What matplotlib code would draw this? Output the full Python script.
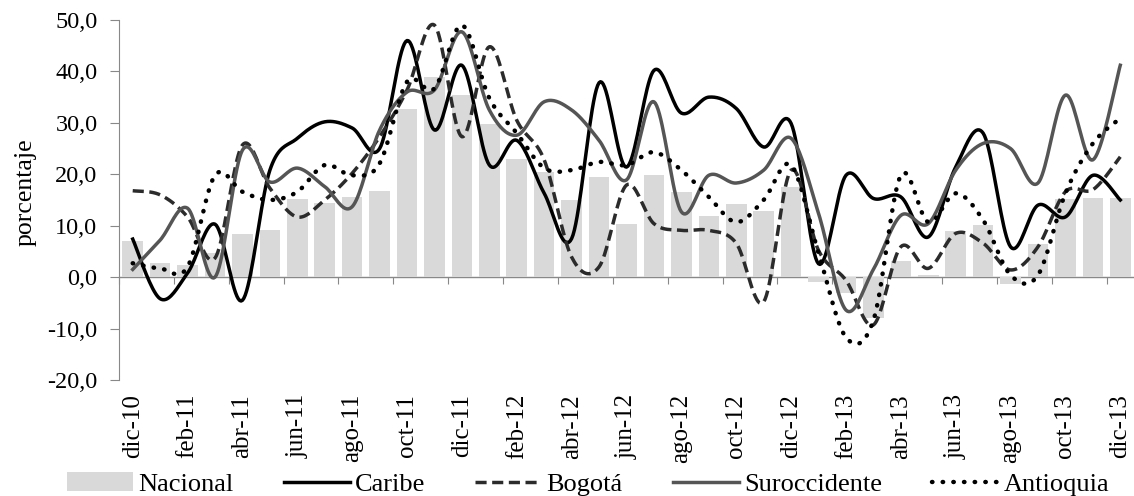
import numpy as np
import matplotlib
matplotlib.use('Agg')
import matplotlib.pyplot as plt
from matplotlib.ticker import FuncFormatter

plt.rcParams['font.family'] = ['Liberation Serif', 'DejaVu Serif']

# monthly series dic-10 .. dic-13
months = ['dic-10', 'ene-11', 'feb-11', 'mar-11', 'abr-11', 'may-11', 'jun-11', 'jul-11', 'ago-11',
          'sep-11', 'oct-11', 'nov-11', 'dic-11', 'ene-12', 'feb-12', 'mar-12', 'abr-12', 'may-12',
          'jun-12', 'jul-12', 'ago-12', 'sep-12', 'oct-12', 'nov-12', 'dic-12', 'ene-13', 'feb-13',
          'mar-13', 'abr-13', 'may-13', 'jun-13', 'jul-13', 'ago-13', 'sep-13', 'oct-13', 'nov-13',
          'dic-13']

nacional = [7.0, 2.7, 2.3, 4.6, 8.4, 9.1, 15.2, 14.4, 15.5, 16.8, 32.7, 39.0, 35.4,
            29.8, 23.0, 20.5, 15.0, 19.5, 10.4, 19.8, 16.6, 11.9, 14.2, 12.8,
            17.6, -0.9, -3.0, -8.0, 3.2, 0.5, 9.0, 10.1, -1.3, 6.4, 15.2, 15.3, 15.3]
caribe = [7.4, -4.2, 0.8, 10.3, -4.5, 20.8, 27.0, 30.2, 29.0, 25.0, 46.0, 28.6, 41.2,
          21.8, 26.6, 16.3, 7.5, 37.8, 21.4, 40.2, 31.9, 35.0, 32.8, 25.3,
          29.9, 2.6, 19.8, 15.3, 15.6, 7.8, 21.4, 28.0, 5.9, 14.0, 11.7, 19.8, 15.0]
bogota = [16.8, 16.0, 11.7, 3.7, 25.7, 17.3, 11.7, 15.0, 20.2, 27.3, 36.4, 49.0, 27.3,
          44.8, 30.5, 22.8, 3.9, 2.0, 17.9, 10.4, 9.1, 9.1, 6.6, -4.8,
          20.8, 5.2, -0.6, -9.3, 5.9, 1.7, 8.5, 6.6, 1.4, 5.9, 16.6, 17.0, 23.4]
suroccidente = [1.5, 7.2, 13.4, 0.0, 24.7, 18.5, 21.2, 17.6, 13.7, 28.6, 36.0, 36.4, 47.7,
                32.5, 27.6, 34.1, 32.5, 26.6, 18.9, 34.1, 12.7, 19.8, 18.3, 20.8,
                27.0, 12.4, -6.4, 1.5, 12.0, 10.4, 20.8, 26.0, 25.0, 18.3, 35.4, 22.8, 41.2]
antioquia = [2.7, 1.7, 2.0, 19.8, 16.6, 15.0, 16.6, 21.8, 19.8, 22.1, 38.0, 36.7, 49.0,
             34.8, 28.0, 21.2, 20.8, 22.4, 21.8, 24.3, 20.8, 15.6, 10.7, 15.0,
             21.8, 4.7, -11.7, -8.4, 19.8, 10.7, 16.3, 11.1, 0.4, 0.4, 16.3, 26.0, 30.9]


def smooth(y, n=20):
    # Excel-like smoothed line (Catmull-Rom through every point)
    y = np.asarray(y, dtype=float)
    x = np.arange(len(y), dtype=float)
    px = np.concatenate([[x[0]], x, [x[-1]]])
    py = np.concatenate([[y[0]], y, [y[-1]]])
    xs, ys = [], []
    t = np.linspace(0, 1, n, endpoint=False)
    for i in range(1, len(px) - 2):
        for arr, out in ((px, xs), (py, ys)):
            p0, p1, p2, p3 = arr[i - 1], arr[i], arr[i + 1], arr[i + 2]
            c1 = p1 + (p2 - p0) / 6
            c2 = p2 - (p3 - p1) / 6
            out.extend((1 - t) ** 3 * p1 + 3 * (1 - t) ** 2 * t * c1 + 3 * (1 - t) * t ** 2 * c2 + t ** 3 * p2)
    xs.append(x[-1])
    ys.append(y[-1])
    return np.array(xs), np.array(ys)


fig = plt.figure(figsize=(11.34, 4.96), dpi=100)
ax = fig.add_axes([119 / 1134, 116 / 496, 1 - 119 / 1134, 360 / 496])

idx = np.arange(len(months))
bars = ax.bar(idx, nacional, width=0.75, color='#d9d9d9', label='Nacional', zorder=1)

l1, = ax.plot(*smooth(caribe), color='black', lw=2.5, label='Caribe', zorder=3)
l2, = ax.plot(*smooth(bogota), color='#2b2b2b', lw=2.5, ls=(0, (3.2, 1.6)), label='Bogotá', zorder=3)
l3, = ax.plot(*smooth(suroccidente), color='#555555', lw=2.5, label='Suroccidente', zorder=3)
l4, = ax.plot(*smooth(antioquia), color='black', lw=3.2, ls=(0, (0.1, 2.3)), dash_capstyle='round',
              label='Antioquia', zorder=4)

ax.set_xlim(-0.5, len(months) - 0.5)
ax.set_ylim(-20, 50)
ax.set_yticks(np.arange(-20, 51, 10))
ax.yaxis.set_major_formatter(FuncFormatter(lambda v, p: ('%.1f' % v).replace('.', ',')))
ax.tick_params(axis='y', labelsize=17.5, length=6.5, color='#888888', pad=9)
ax.set_ylabel('porcentaje', fontsize=18.5)
ax.yaxis.set_label_coords(-0.081, 0.522)

# category labels every two months, at the bottom
ax.set_xticks(idx[::2])
ax.set_xticklabels(months[::2], rotation=90, fontsize=18)
ax.tick_params(axis='x', length=0, pad=10)

for s in ['top', 'right', 'bottom']:
    ax.spines[s].set_visible(False)
ax.spines['left'].set_color('#888888')

# zero line with the category tick marks
zero = ax.secondary_xaxis(20 / 70)
zero.set_xticks(np.arange(-0.5, len(months), 2))
zero.tick_params(axis='x', length=5, color='#888888', direction='out', labelbottom=False)
zero.spines['bottom'].set_color('#888888')
zero.spines['bottom'].set_linewidth(1.0)

fig.legend(handles=[bars, l1, l2, l3, l4], loc='center left', bbox_to_anchor=(67 / 1134, 1 - 484 / 496),
           ncol=5, frameon=False, fontsize=19, handlelength=2.5, handletextpad=0.2, columnspacing=1.9,
           borderpad=0, borderaxespad=0)

fig.savefig('out.png', dpi=100)
